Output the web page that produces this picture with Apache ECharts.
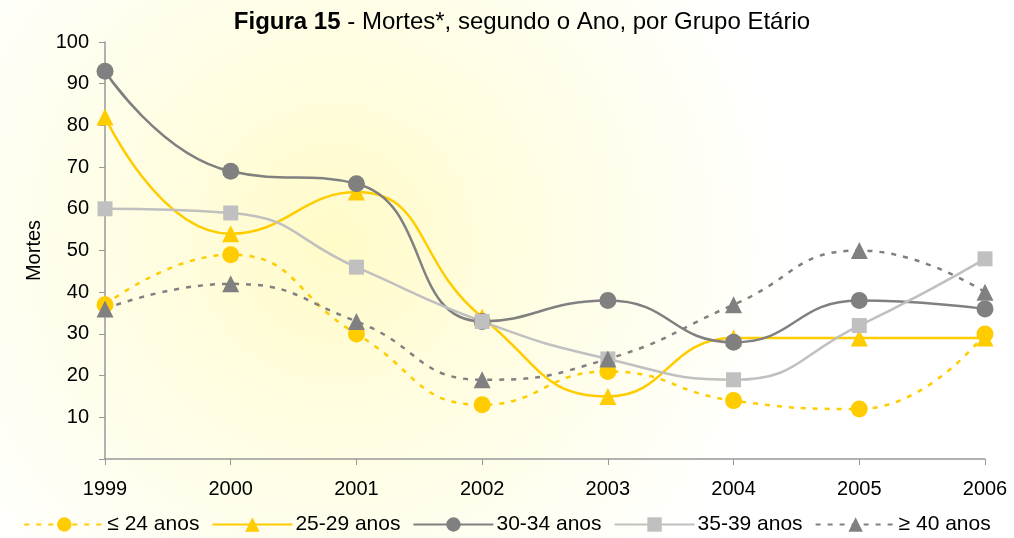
<!DOCTYPE html>
<html>
<head>
<meta charset="utf-8">
<script src="https://cdn.jsdelivr.net/npm/echarts@6/dist/echarts.min.js"></script>
<style>
  html, body { margin: 0; padding: 0; background: #fff; }
  #chart { width: 1014px; height: 538px; }
</style>
</head>
<body>
<div id="chart"></div>
<script>
// Data
const years = ["1999", "2000", "2001", "2002", "2003", "2004", "2005", "2006"];
const ate24 = [37, 49, 30, 13, 21, 14, 12, 30];
const de25a29 = [82, 54, 64, 34, 15, 29, 29, 29];
const de30a34 = [93, 69, 66, 33, 38, 28, 38, 36];
const de35a39 = [60, 59, 46, 33, 24, 19, 32, 48];
const mais40 = [36, 42, 33, 19, 24, 37, 50, 40];
const yTicks = [10, 20, 30, 40, 50, 60, 70, 80, 90, 100];

const YELLOW = "#FFCC00";
const DARK = "#808080";
const LIGHT = "#C0C0C0";

const chart = echarts.init(document.getElementById("chart"));

const makeSeries = (name, data, color, symbol, dashed, size) => ({
  name: name,
  type: "line",
  data: data,
  smooth: 0.5,
  symbol: symbol,
  symbolSize: size,
  lineStyle: { color: color, width: 2.5, type: dashed ? [5, 7] : "solid" },
  itemStyle: { color: color },
});

chart.setOption({
  animation: false,
  backgroundColor: new echarts.graphic.RadialGradient(0.33, 0.45, 0.85, [
    { offset: 0, color: "#FFFBC8" },
    { offset: 0.35, color: "#FFFDDE" },
    { offset: 1, color: "#FFFFFF" },
  ]),
  textStyle: { fontFamily: "Liberation Sans, Arial, sans-serif" },
  title: {
    text: "{b|Figura 15} - Mortes*, segundo o Ano, por Grupo Etário",
    left: 517,
    top: 5,
    textAlign: "center",
    textStyle: {
      fontSize: 24,
      fontWeight: "normal",
      color: "#000",
      rich: { b: { fontSize: 24, fontWeight: "bold", color: "#000" } },
    },
  },
  legend: {
    top: 509,
    left: "center",
    itemWidth: 80,
    itemHeight: 18,
    itemGap: 12,
    textStyle: { fontSize: 21, color: "#000", padding: [0, 0, 0, -2] },
    data: ["≤ 24 anos", "25-29 anos", "30-34 anos", "35-39 anos", "≥ 40 anos"],
  },
  grid: { left: 105, right: 29, top: 42, bottom: 79 },
  xAxis: {
    type: "category",
    data: years,
    boundaryGap: false,
    axisLine: { lineStyle: { color: "#999", width: 1.5 } },
    axisTick: { alignWithLabel: true, length: 6, lineStyle: { color: "#999" } },
    axisLabel: { fontSize: 20, color: "#000", margin: 20 },
  },
  yAxis: {
    type: "value",
    min: 0,
    max: 100,
    interval: 10,
    name: "Mortes",
    nameLocation: "middle",
    nameGap: 55,
    nameTextStyle: { fontSize: 20, color: "#000" },
    axisLine: { show: true, lineStyle: { color: "#999", width: 1.5 } },
    axisTick: { show: true, length: 6, lineStyle: { color: "#999" } },
    splitLine: { show: false },
    axisLabel: {
      fontSize: 20,
      color: "#000",
      margin: 16,
      formatter: (v) => (yTicks.includes(v) ? String(v) : ""),
    },
  },
  series: [
    makeSeries("≤ 24 anos", ate24, YELLOW, "circle", true, 17),
    makeSeries("25-29 anos", de25a29, YELLOW, "triangle", false, 17),
    makeSeries("30-34 anos", de30a34, DARK, "circle", false, 17),
    makeSeries("35-39 anos", de35a39, LIGHT, "rect", false, 15),
    makeSeries("≥ 40 anos", mais40, DARK, "triangle", true, 17),
  ],
});
</script>
</body>
</html>
